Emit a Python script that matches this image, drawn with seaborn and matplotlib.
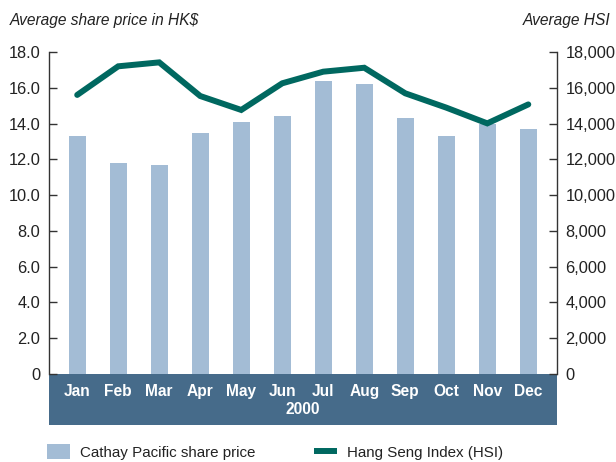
import matplotlib
matplotlib.use("Agg")
import matplotlib.pyplot as plt
import seaborn as sns
import pandas as pd
from matplotlib.patches import Rectangle, Patch
from matplotlib.lines import Line2D

months = ["Jan", "Feb", "Mar", "Apr", "May", "Jun", "Jul", "Aug", "Sep", "Oct", "Nov", "Dec"]
share_price = [13.3, 11.8, 11.7, 13.5, 14.1, 14.4, 16.4, 16.2, 14.3, 13.3, 14.0, 13.7]
hsi = [15600, 17200, 17420, 15540, 14760, 16250, 16900, 17120, 15690, 14890, 14010, 15070]
left_ticks = [0, 2, 4, 6, 8, 10, 12, 14, 16, 18]
left_labels = ["0", "2.0", "4.0", "6.0", "8.0", "10.0", "12.0", "14.0", "16.0", "18.0"]
right_ticks = [0, 2000, 4000, 6000, 8000, 10000, 12000, 14000, 16000, 18000]
right_labels = ["0", "2,000", "4,000", "6,000", "8,000", "10,000", "12,000", "14,000", "16,000", "18,000"]

BAR = "#A3BCD5"
LINE = "#006860"
BAND = "#466B8A"
TXT = "#222222"

sns.set_style("white")
plt.rcParams["font.family"] = ["Liberation Sans", "DejaVu Sans"]

df = pd.DataFrame({"month": months, "price": share_price, "hsi": hsi})

fig = plt.figure(figsize=(6.16, 4.62), dpi=100)
ax = fig.add_axes([48.5 / 616, (462 - 374) / 462, (557 - 48.5) / 616, (374 - 52) / 462])
sns.barplot(data=df, x="month", y="price", ax=ax, color=BAR, width=0.41,
            saturation=1, edgecolor="none")
ax.set_xlim(-0.7, 11.7)
ax.set_ylim(0, 18)
ax.set_yticks(left_ticks)
ax.set_yticklabels(left_labels)
ax.set_xlabel("")
ax.set_ylabel("")

ax2 = ax.twinx()
sns.lineplot(data=df, x="month", y="hsi", ax=ax2, color=LINE, linewidth=4.3,
             sort=False, solid_joinstyle="miter")
ax2.set_xlim(-0.7, 11.7)
ax2.set_ylim(0, 18000)
ax2.set_yticks(right_ticks)
ax2.set_yticklabels(right_labels)
ax2.set_ylabel("")
ax2.set_xlabel("")

for a in (ax, ax2):
    for s in ("top", "bottom"):
        a.spines[s].set_visible(False)
    a.spines["left"].set_color("#333333")
    a.spines["right"].set_color("#333333")
    a.spines["left"].set_linewidth(1.0)
    a.spines["right"].set_linewidth(1.0)
    a.tick_params(axis="y", direction="in", length=5.5, width=1.0, color="#333333",
                  labelsize=11.8, labelcolor=TXT, pad=6)
ax.spines["right"].set_visible(False)
ax2.spines["left"].set_visible(False)

# category band
band = Rectangle((0, -51 / 322), 1, 51 / 322, transform=ax.transAxes,
                 facecolor=BAND, edgecolor="none", clip_on=False, zorder=0)
ax.add_patch(band)
ax.tick_params(axis="x", length=0, pad=7.5, labelsize=11.2, labelcolor="white")
for lbl in ax.get_xticklabels():
    lbl.set_fontweight("bold")
ax.text(0.5, -36 / 322, "2000", transform=ax.transAxes, ha="center", va="center",
        color="white", fontsize=11.2, fontweight="bold")

fig.text(10 / 616, 1 - 21 / 462, "Average share price in HK$", ha="left", va="center",
         fontsize=11.2, style="italic", color=TXT)
fig.text(610 / 616, 1 - 21 / 462, "Average HSI", ha="right", va="center",
         fontsize=11.2, style="italic", color=TXT)

handles = [Patch(facecolor=BAR, edgecolor="none"),
           Line2D([0], [0], color=LINE, linewidth=4.3, solid_capstyle="butt")]
fig.legend(handles, ["Cathay Pacific share price", "Hang Seng Index (HSI)"],
           loc="center left", bbox_to_anchor=(47 / 616, 1 - 452 / 462), ncol=2,
           frameon=False, fontsize=10.9, handlelength=1.55, handleheight=1.1,
           handletextpad=0.6, columnspacing=3.9, borderpad=0, borderaxespad=0,
           labelcolor=TXT)

fig.savefig("out.png", dpi=100)
